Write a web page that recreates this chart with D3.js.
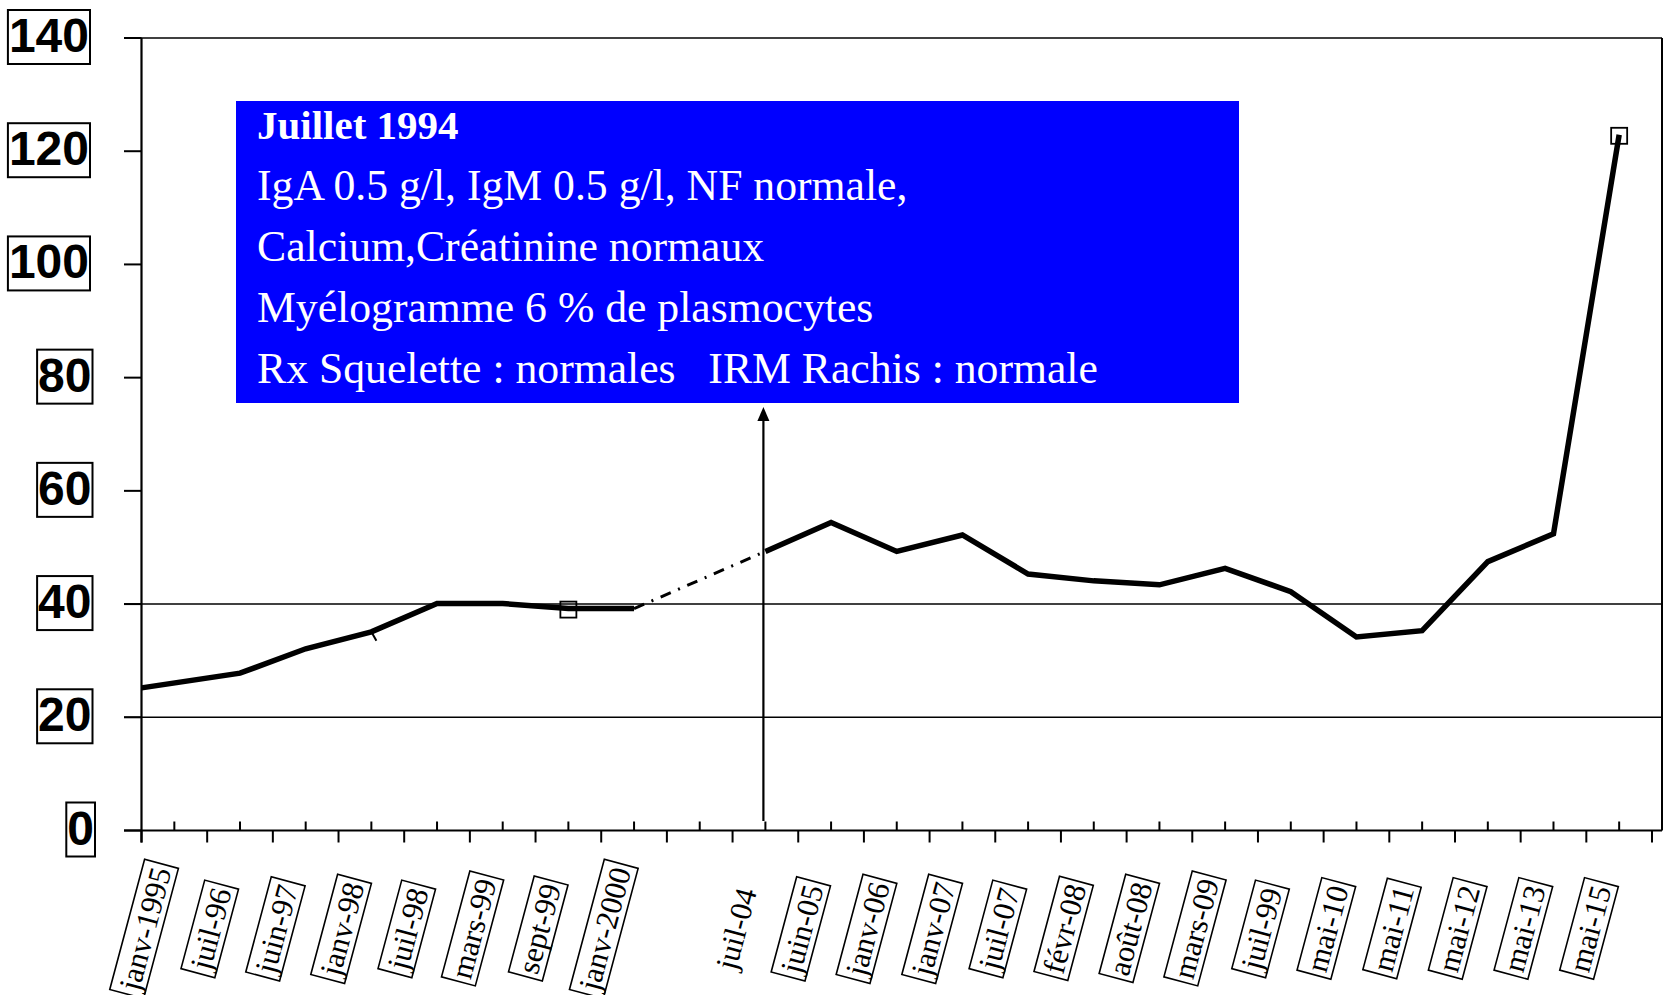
<!DOCTYPE html>
<html>
<head>
<meta charset="utf-8">
<script src="https://cdn.jsdelivr.net/npm/d3@7"></script>
<style>
  html, body { margin: 0; padding: 0; background: #fff; }
  svg { display: block; }
</style>
</head>
<body>
<svg id="chart" width="1665" height="995"></svg>
<script>
// Category labels along the time axis (one empty slot marks the 2000–2004 gap)
const categories = ["janv-1995", "juil-96", "juin-97", "janv-98", "juil-98", "mars-99", "sept-99", "janv-2000", "",
  "juil-04", "juin-05", "janv-06", "janv-07", "juil-07", "févr-08", "août-08", "mars-09", "juil-99",
  "mai-10", "mai-11", "mai-12", "mai-13", "mai-15"];

// Measured values (null = no measurement)
const values = [25.2, 27.8, 32.1, 35.1, 40.1, 40.1, 39.2, 39.2, null,
  49.3, 54.4, 49.3, 52.2, 45.3, 44.1, 43.4, 46.3, 42.2,
  34.2, 35.3, 47.5, 52.4, 122.9];

const yTicks = [0, 20, 40, 60, 80, 100, 120, 140];
const gridValues = [20, 40, 140];
const markedPoints = ["sept-99", "mai-15"];
const unboxedLabels = ["juil-04"];
const bridge = ["janv-2000", "juil-04"];     // dash-dot link across the gap
const notchPoint = "janv-98";
const arrowAt = "juil-04";

const noteTitle = "Juillet 1994";
const noteLines = [
  "IgA 0.5 g/l, IgM 0.5 g/l, NF normale,",
  "Calcium,Créatinine normaux",
  "Myélogramme 6 % de plasmocytes",
  "Rx Squelette : normales   IRM Rachis : normale"
];

const svg = d3.select("#chart");
const left = 141.5, right = 1652, frameRight = 1662, tickStart = 124;

const x = d3.scaleBand().domain(d3.range(categories.length)).range([left, right]).paddingInner(0).paddingOuter(0);
const y = d3.scaleLinear().domain([0, 140]).range([830.5, 38]);
const bw = x.bandwidth();
const cx = i => x(i) + bw / 2;
// the first measurement sits on the value axis
const px = i => (i === 0 ? left : cx(i));

// gridlines / frame
svg.append("g").selectAll("line").data(gridValues).join("line")
  .attr("x1", tickStart).attr("x2", frameRight)
  .attr("y1", d => y(d)).attr("y2", d => y(d))
  .attr("stroke", "#000").attr("stroke-width", 1.6);
svg.append("line").attr("x1", frameRight).attr("x2", frameRight)
  .attr("y1", y(140)).attr("y2", y(0)).attr("stroke", "#000").attr("stroke-width", 2);

// value axis
const yAxis = svg.append("g");
yAxis.append("line").attr("x1", left).attr("x2", left).attr("y1", y(140)).attr("y2", y(0) + 12)
  .attr("stroke", "#000").attr("stroke-width", 2.2);
yAxis.selectAll("line.tick").data(yTicks).join("line").attr("class", "tick")
  .attr("x1", tickStart).attr("x2", left).attr("y1", d => y(d)).attr("y2", d => y(d))
  .attr("stroke", "#000").attr("stroke-width", 2);
yAxis.selectAll("g.lab").data(yTicks).join("g").attr("class", "lab")
  .each(function (d) {
    const g = d3.select(this);
    const t = g.append("text")
      .attr("x", 89 + (3 - String(d).length) * 2.5).attr("y", y(d) + 14)
      .attr("text-anchor", "end")
      .attr("font-family", "'Liberation Sans', Arial, sans-serif")
      .attr("font-weight", "bold").attr("font-size", 48)
      .text(d);
    const bb = t.node().getBBox();
    g.insert("rect", "text")
      .attr("x", bb.x - 1).attr("y", bb.y + 1).attr("width", bb.width + 2).attr("height", bb.height + 1)
      .attr("fill", "#fff").attr("stroke", "#000").attr("stroke-width", 2);
  });

// category axis
const xAxis = svg.append("g");
xAxis.append("line").attr("x1", tickStart).attr("x2", frameRight).attr("y1", y(0)).attr("y2", y(0))
  .attr("stroke", "#000").attr("stroke-width", 2.2);
xAxis.selectAll("line.down").data(d3.range(categories.length + 1)).join("line").attr("class", "down")
  .attr("x1", i => left + i * bw).attr("x2", i => left + i * bw)
  .attr("y1", y(0)).attr("y2", y(0) + 12)
  .attr("stroke", "#000").attr("stroke-width", 2);
xAxis.selectAll("line.up").data(d3.range(categories.length)).join("line").attr("class", "up")
  .attr("x1", cx).attr("x2", cx)
  .attr("y1", y(0) - 9).attr("y2", y(0))
  .attr("stroke", "#000").attr("stroke-width", 2);

xAxis.selectAll("g.cat").data(categories.map((c, i) => ({ c, i })).filter(d => d.c)).join("g").attr("class", "cat")
  .attr("transform", d => `translate(${cx(d.i) - 28},929) rotate(-75)`)
  .each(function (d) {
    const g = d3.select(this);
    const t = g.append("text")
      .attr("text-anchor", "middle").attr("dy", "0.3em")
      .attr("font-family", "'Liberation Serif', 'Times New Roman', serif")
      .attr("font-size", 31)
      .text(d.c);
    if (!unboxedLabels.includes(d.c)) {
      const bb = t.node().getBBox();
      g.insert("rect", "text")
        .attr("x", bb.x - 4).attr("y", bb.y - 1).attr("width", bb.width + 8).attr("height", bb.height)
        .attr("fill", "#fff").attr("stroke", "#000").attr("stroke-width", 1.6);
    }
  });

// series
const pts = values.map((v, i) => ({ v, i, c: categories[i] }));
const line = d3.line().defined(d => d.v != null).x(d => px(d.i)).y(d => y(d.v));

const bi = bridge.map(c => categories.indexOf(c));
svg.append("path").datum(pts.filter(d => bi.includes(d.i)))
  .attr("d", line).attr("fill", "none").attr("stroke", "#000")
  .attr("stroke-width", 3).attr("stroke-dasharray", "11,8,2,8");

svg.append("path").datum(pts).attr("d", line)
  .attr("fill", "none").attr("stroke", "#000").attr("stroke-width", 5.5)
  .attr("stroke-linejoin", "miter");

// small notch
const ni = categories.indexOf(notchPoint);
svg.append("line").attr("x1", px(ni)).attr("y1", y(values[ni]))
  .attr("x2", px(ni) + 5).attr("y2", y(values[ni]) + 9)
  .attr("stroke", "#000").attr("stroke-width", 2);

// hollow square markers
svg.append("g").selectAll("rect").data(pts.filter(d => markedPoints.includes(d.c))).join("rect")
  .attr("x", d => px(d.i) - 8).attr("y", d => y(d.v) - 7).attr("width", 16).attr("height", 16)
  .attr("fill", "none").attr("stroke", "#000").attr("stroke-width", 1.8);

// annotation box
const box = { x: 236, y: 101, w: 1003, h: 302 };
svg.append("rect").attr("x", box.x).attr("y", box.y).attr("width", box.w).attr("height", box.h)
  .attr("fill", "#0000ff");
const note = svg.append("text")
  .attr("font-family", "'Liberation Serif', 'Times New Roman', serif")
  .attr("fill", "#fff").attr("font-size", 43.7)
  .style("white-space", "pre");
note.append("tspan").attr("x", 257).attr("y", 138.5).attr("font-weight", "bold").attr("font-size", 41).text(noteTitle);
noteLines.forEach((l, k) => {
  note.append("tspan").attr("x", 257).attr("y", 138.5 + 61 * (k + 1)).text(l);
});

// arrow pointing at the annotation
const ai = categories.indexOf(arrowAt);
const ax = cx(ai) - 2;
const tipY = box.y + box.h + 4;
svg.append("line").attr("x1", ax).attr("x2", ax).attr("y1", y(1.7)).attr("y2", tipY + 10)
  .attr("stroke", "#000").attr("stroke-width", 2.2);
svg.append("path")
  .attr("d", d3.line()([[ax, tipY], [ax - 6, tipY + 14], [ax + 6, tipY + 14]]) + "Z")
  .attr("fill", "#000");
</script>
</body>
</html>
